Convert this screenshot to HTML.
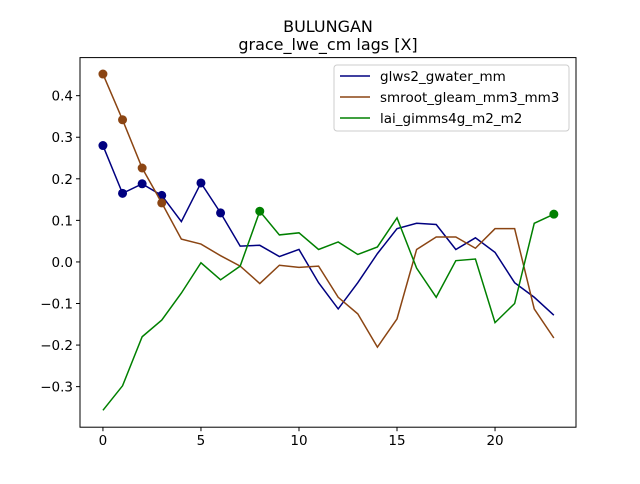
<!DOCTYPE html>
<html><head><meta charset="utf-8"><style>
body{margin:0;background:#fff;font-family:"DejaVu Sans","Liberation Sans",sans-serif;}
svg text{font-family:"DejaVu Sans","Liberation Sans",sans-serif;}
</style></head><body>
<svg id="chart" width="640" height="480" viewBox="0 0 640 480">
<rect width="640" height="480" fill="#fff"/>
<text x="328" y="32" text-anchor="middle" font-size="16">BULUNGAN</text>
<text x="328" y="50" text-anchor="middle" font-size="16">grace_lwe_cm lags [X]</text>
<g id="plot"></g>
<rect x="80" y="57.6" width="496" height="369.6" fill="none" stroke="#000" stroke-width="1"/>
</svg>
<script>
const lags=[0,1,2,3,4,5,6,7,8,9,10,11,12,13,14,15,16,17,18,19,20,21,22,23];
const glws2=[0.28,0.165,0.188,0.16,0.097,0.19,0.118,0.038,0.04,0.013,0.03,-0.05,-0.113,-0.05,0.02,0.08,0.093,0.09,0.03,0.058,0.023,-0.05,-0.085,-0.128];
const smroot=[0.452,0.342,0.226,0.142,0.055,0.043,0.015,-0.01,-0.052,-0.008,-0.013,-0.01,-0.085,-0.125,-0.205,-0.137,0.03,0.06,0.06,0.033,0.08,0.08,-0.113,-0.183];
const lai=[-0.357,-0.298,-0.18,-0.14,-0.075,-0.002,-0.043,-0.01,0.122,0.065,0.07,0.03,0.048,0.018,0.036,0.106,-0.015,-0.085,0.003,0.007,-0.146,-0.1,0.093,0.115];
const glws2Marks=[0,1,2,3,5,6];
const smrootMarks=[0,1,2,3];
const laiMarks=[8,23];
const xTicks=[0,5,10,15,20];
const yTicks=[-0.3,-0.2,-0.1,0.0,0.1,0.2,0.3,0.4];
const seriesNames=["glws2_gwater_mm","smroot_gleam_mm3_mm3","lai_gimms4g_m2_m2"];
const colors=["#000080","#8B4513","#008000"];

const X0=80,X1=576,Y0=57.6,Y1=427.2;
const xmin=-1.17,xmax=24.13,ymin=-0.3976,ymax=0.4916;
const xs=v=>X0+(v-xmin)/(xmax-xmin)*(X1-X0);
const ys=v=>Y1-(v-ymin)/(ymax-ymin)*(Y1-Y0);
const NS="http://www.w3.org/2000/svg";
const g=document.getElementById('plot');
function mk(t,a){const e=document.createElementNS(NS,t);for(const k in a)e.setAttribute(k,a[k]);g.appendChild(e);return e;}
xTicks.forEach(t=>{
  const l=mk('line',{x1:xs(t),x2:xs(t),y1:Y1,y2:Y1+4,stroke:'#000'});
  
  
  const tx=mk('text',{x:xs(t),y:Y1+18,'text-anchor':'middle','font-size':'13.5'});tx.textContent=t;
  
  
});
yTicks.forEach(t=>{
  const l=mk('line',{x1:X0-4,x2:X0,y1:ys(t),y2:ys(t),stroke:'#000'});
  
  
  const tx=mk('text',{x:X0-7,y:ys(t)+5,'text-anchor':'end','font-size':'13.5'});tx.textContent=(t<0?'\u2212':'')+Math.abs(t).toFixed(1);
  
  
});
const allSeries=[glws2,smroot,lai];
const allMarks=[glws2Marks,smrootMarks,laiMarks];
allSeries.forEach((s,k)=>{
  const p=mk('polyline',{points:s.map((v,i)=>xs(lags[i])+','+ys(v)).join(' '),fill:'none',stroke:colors[k],'stroke-width':1.5});
  
  
  allMarks[k].forEach(i=>{
    const c=mk('circle',{cx:xs(lags[i]),cy:ys(s[i]),r:4.5,fill:colors[k]});
    
    
  });
});
const lg=mk('rect',{x:334,y:65,width:235,height:66,rx:3,fill:'#fff',stroke:'#ccc'});


seriesNames.forEach((n,k)=>{
  const y=76+k*21;
  const l=mk('line',{x1:340,x2:370,y1:y,y2:y,stroke:colors[k],'stroke-width':1.5});
  
  
  const t=mk('text',{x:380,y:y+5,'font-size':'13.5'});t.textContent=n;
  
  
});
</script>
</body></html>
